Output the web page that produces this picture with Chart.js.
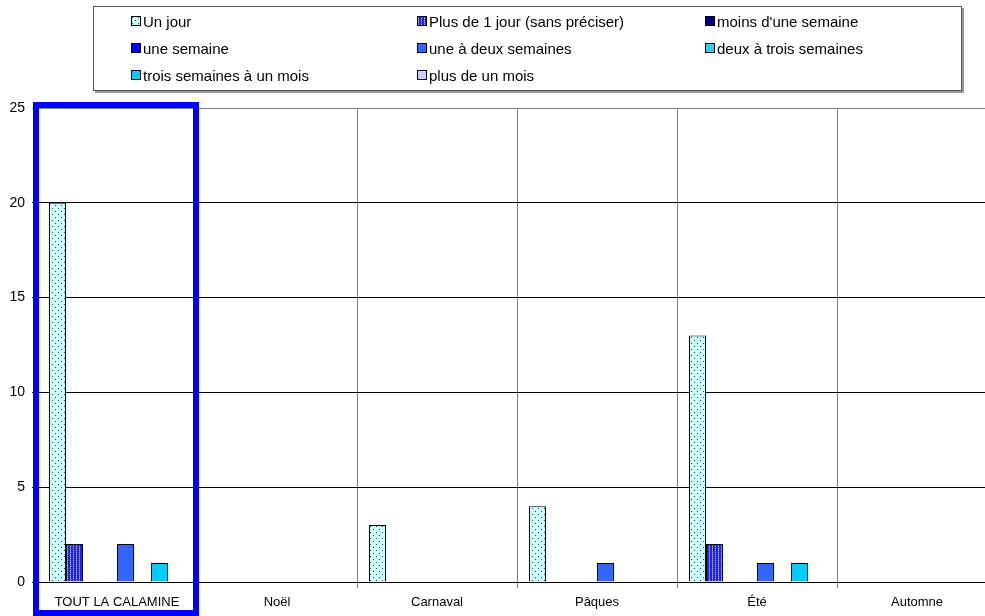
<!DOCTYPE html>
<html>
<head>
<meta charset="utf-8">
<script src="https://cdn.jsdelivr.net/npm/chart.js@4/dist/chart.umd.min.js"></script>
<style>
  html, body { margin: 0; padding: 0; background: #fff; overflow: hidden; width: 985px; height: 616px; }
  #wrap { position: relative; width: 985px; height: 616px; overflow: hidden; }
  #c { position: absolute; left: 0; top: 0; }
  #legend { position: absolute; left: 93px; top: 6px; width: 867px; height: 83px;
    border: 1px solid #555; box-shadow: 2px 2px 0 #999; background: #fff;
    font-family: "Liberation Sans", Arial, sans-serif; font-size: 15px; color: #000; }
  .item { position: absolute; display: flex; align-items: center; white-space: nowrap; height: 18px; }
  .item canvas { width: 10px; height: 10px; margin-right: 2px; display: block; }
</style>
</head>
<body>
<div id="wrap">
  <canvas id="c" width="1000" height="616"></canvas>
  <div id="legend"></div>
</div>
<script>
const categories = ["TOUT LA CALAMINE", "Noël", "Carnaval", "Pâques", "Été", "Automne"];
const seriesNames = ["Un jour", "Plus de 1 jour (sans préciser)", "moins d'une semaine", "une semaine",
  "une à deux semaines", "deux à trois semaines", "trois semaines à un mois", "plus de un mois"];
const unJour            = [20, 0, 3, 4, 13, 0];
const plusDeUnJour      = [2, 0, 0, 0, 2, 0];
const moinsDUneSemaine  = [0, 0, 0, 0, 0, 0];
const uneSemaine        = [0, 0, 0, 0, 0, 0];
const uneADeuxSemaines  = [2, 0, 0, 1, 1, 0];
const deuxATroisSemaines= [0, 0, 0, 0, 0, 0];
const troisSemainesAUnMois = [1, 0, 0, 0, 1, 0];
const plusDeUnMois      = [0, 0, 0, 0, 0, 0];
const yTicks = [0, 5, 10, 15, 20, 25];

function makePattern(kind) {
  const p = document.createElement('canvas');
  const g = p.getContext('2d');
  if (kind === 'dots') {
    p.width = 6; p.height = 6;
    g.fillStyle = '#CCFFFF'; g.fillRect(0, 0, 6, 6);
    g.fillStyle = '#2a4a4a';
    g.fillRect(1, 1, 1, 1); g.fillRect(4, 4, 1, 1);
  } else {
    p.width = 3; p.height = 2;
    g.fillStyle = '#2020ff'; g.fillRect(0, 0, 3, 2);
    g.fillStyle = '#b0b0ff'; g.fillRect(1, 0, 1, 1);
    g.fillStyle = '#6060ff'; g.fillRect(1, 1, 1, 1);
  }
  return document.getElementById('c').getContext('2d').createPattern(p, 'repeat');
}

const colors = [makePattern('dots'), makePattern('stripes'), '#000080', '#0000FF', '#3366FF', '#33CCFF', '#00CCFF', '#CCCCFF'];
const allData = [unJour, plusDeUnJour, moinsDUneSemaine, uneSemaine, uneADeuxSemaines, deuxATroisSemaines, troisSemainesAUnMois, plusDeUnMois];

const datasets = seriesNames.map((name, i) => ({
  label: name,
  data: allData[i],
  backgroundColor: colors[i],
  borderColor: '#000',
  borderWidth: 1,
  categoryPercentage: 0.85,
  barPercentage: 1.0
}));

const highlight = {
  id: 'highlight',
  afterDraw(chart) {
    const xs = chart.scales.x, ca = chart.chartArea;
    const w = (ca.right - ca.left) / categories.length;
    const cx = xs.getPixelForValue(0);
    const ctx = chart.ctx;
    ctx.save();
    ctx.strokeStyle = '#0000FF';
    ctx.lineWidth = 6;
    ctx.strokeRect(cx - w / 2 - 1, ca.top - 3, w, 616 - ca.top + 0);
    ctx.restore();
  }
};

const font = { family: '"Liberation Sans", Arial, sans-serif', size: 13 };

const chart = new Chart(document.getElementById('c'), {
  type: 'bar',
  data: { labels: categories, datasets },
  options: {
    responsive: false,
    animation: false,
    devicePixelRatio: 1,
    layout: { padding: { top: 108, right: 3, bottom: 0, left: 0 } },
    plugins: { legend: { display: false }, tooltip: { enabled: false } },
    scales: {
      x: {
        offset: true,
        grid: { offset: true, color: '#808080', tickLength: 6, lineWidth: 1 },
        border: { color: '#000' },
        ticks: { color: '#000', font, padding: 7, maxRotation: 0, autoSkip: false },
        afterFit: s => { s.height = 34; }
      },
      y: {
        min: 0, max: 25,
        afterBuildTicks: s => { s.ticks = yTicks.map(v => ({ value: v })); },
        grid: { color: c => (c.tick && c.tick.value === 25 ? '#808080' : '#000'), tickLength: 5 },
        border: { color: '#000' },
        ticks: { color: '#000', font: { family: font.family, size: 14 }, padding: 7 },
        afterFit: s => { s.width = 37; }
      }
    }
  },
  plugins: [highlight]
});

// HTML legend built from the datasets
const legend = document.getElementById('legend');
const colX = [37, 323, 611];
const rowY = [5, 32, 59];
datasets.forEach((ds, i) => {
  const it = document.createElement('div');
  it.className = 'item';
  it.style.left = colX[i % 3] + 'px';
  it.style.top = rowY[Math.floor(i / 3)] + 'px';
  const sw = document.createElement('canvas');
  sw.width = 10; sw.height = 10;
  const g = sw.getContext('2d');
  g.fillStyle = ds.backgroundColor; g.fillRect(0, 0, 10, 10);
  g.strokeStyle = '#000'; g.lineWidth = 1; g.strokeRect(0.5, 0.5, 9, 9);
  it.appendChild(sw);
  const t = document.createElement('span');
  t.textContent = ds.label;
  it.appendChild(t);
  legend.appendChild(it);
});
</script>
</body>
</html>
